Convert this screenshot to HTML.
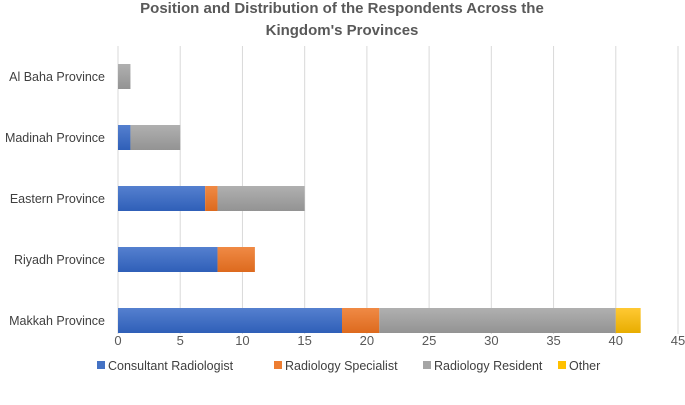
<!DOCTYPE html>
<html><head><meta charset="utf-8"><style>
body{margin:0;background:#fff;}
svg text{font-family:"Liberation Sans","DejaVu Sans",sans-serif;}
</style></head><body>
<svg id="chart" width="685" height="400" xmlns="http://www.w3.org/2000/svg">
<defs>
<linearGradient id="g0" x1="0" y1="0" x2="0" y2="1"><stop offset="0" stop-color="#5580cf"/><stop offset="1" stop-color="#2f5fb8"/></linearGradient>
<linearGradient id="g1" x1="0" y1="0" x2="0" y2="1"><stop offset="0" stop-color="#f08a45"/><stop offset="1" stop-color="#dd6a1e"/></linearGradient>
<linearGradient id="g2" x1="0" y1="0" x2="0" y2="1"><stop offset="0" stop-color="#b0b0b0"/><stop offset="1" stop-color="#939393"/></linearGradient>
<linearGradient id="g3" x1="0" y1="0" x2="0" y2="1"><stop offset="0" stop-color="#ffc933"/><stop offset="1" stop-color="#e8ad00"/></linearGradient>
</defs>
<text x="342" y="13" text-anchor="middle" font-size="15" font-weight="bold" fill="#595959">Position and Distribution of the Respondents Across the</text>
<text x="342" y="35" text-anchor="middle" font-size="15" font-weight="bold" fill="#595959">Kingdom's Provinces</text>
<g id="grid"></g><g id="bars"></g><g id="labels"></g><g id="legend"></g>
</svg>
<script>
const categories=["Makkah Province","Riyadh Province","Eastern Province","Madinah Province","Al Baha Province"];
const seriesNames=["Consultant Radiologist","Radiology Specialist","Radiology Resident","Other"];
const consultant=[18,8,7,1,0];
const specialist=[3,3,1,0,0];
const resident=[19,0,7,4,1];
const other=[2,0,0,0,0];
const ticks=[0,5,10,15,20,25,30,35,40,45];
const series=[consultant,specialist,resident,other];
const fills=["url(#g0)","url(#g1)","url(#g2)","url(#g3)"];
const solid=["#4472C4","#ED7D31","#A5A5A5","#FFC000"];
const NS="http://www.w3.org/2000/svg";
const x0=118,x1=678,yTop=46,yBot=351,gridBot=334;
const xs=v=>x0+(v-0)/(45-0)*(x1-x0);
const band=(yBot-yTop)/categories.length;
const yc=i=>yBot-band*(i+0.5);
function mk(t,a,p){const e=document.createElementNS(NS,t);for(const k in a)e.setAttribute(k,a[k]);p.appendChild(e);return e;}
const grid=document.getElementById('grid'),bars=document.getElementById('bars'),labels=document.getElementById('labels'),legend=document.getElementById('legend');
ticks.forEach(t=>{
  const l=mk('line',{x1:xs(t),x2:xs(t),y1:yTop,y2:gridBot,stroke:'#d9d9d9','stroke-width':1},grid);
  
  
  const tx=mk('text',{x:xs(t),y:345,'text-anchor':'middle','font-size':13,fill:'#595959'},labels);
  tx.textContent=t;
  
  
});
categories.forEach((c,i)=>{
  const tx=mk('text',{x:105,y:yc(i)+4.5,'text-anchor':'end','font-size':12.5,fill:'#404040'},labels);
  tx.textContent=c;
  
  
  let acc=0;
  series.forEach((s,j)=>{
    const v=s[i];
    if(v>0){
      const r=mk('rect',{x:xs(acc),y:yc(i)-12.5,width:xs(acc+v)-xs(acc),height:25,fill:fills[j]},bars);
      
      
    }
    acc+=v;
  });
});
const lx=[97,274,423,558];
seriesNames.forEach((n,j)=>{
  const r=mk('rect',{x:lx[j],y:361,width:8,height:8,fill:solid[j]},legend);
  
  
  const t=mk('text',{x:lx[j]+11,y:370,'font-size':12.5,fill:'#404040'},legend);
  t.textContent=n;
  
  
});
</script>
</body></html>
